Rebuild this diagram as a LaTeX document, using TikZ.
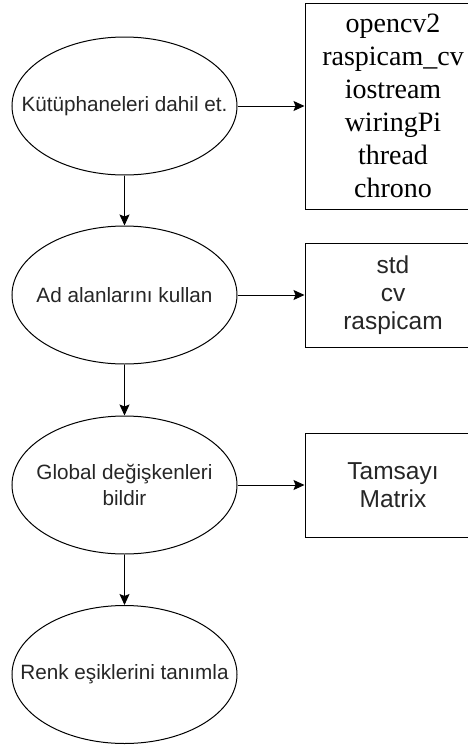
\documentclass[tikz,border=0pt]{standalone}
\usepackage{fontspec}
\setmainfont{Liberation Sans}
\newfontfamily\libserif{Liberation Serif}
\usepackage{tikz}
\usetikzlibrary{arrows.meta,shapes.geometric}

\begin{document}
\begin{tikzpicture}[
      x=1pt, y=-1pt,
      line width=1pt,
      stage/.style={ellipse, draw, minimum width=225pt, minimum height=138pt, inner sep=0pt,
        label={[align=center, text=black!85, font=\fontsize{20.7}{26}\selectfont]center:#1}},
      info/.style={rectangle, draw, minimum width=176pt, minimum height=#1, inner sep=0pt,
        align=center, text=black!85, font=\fontsize{24.5}{28}\selectfont},
      flow/.style={-{Stealth[length=11pt, width=10pt, inset=2pt]}}
    ]
      \useasboundingbox (0,0) rectangle (468,747);
      % Steps
      \node[stage={Kütüphaneleri dahil et.}] (libs) at (124.5,106) {};
      \node[stage={Ad alanlarını kullan}] (names) at (124.5,295) {};
      \node[stage={Global değişkenleri\\bildir}] (globals) at (124.5,485) {};
      \node[stage={Renk eşiklerini tanımla}] (colors) at (124.5,674.5) {};
      % Side notes
      \node[info=206pt, text=black, font=\libserif\fontsize{28}{33}\selectfont] (liblist) at (393,106)
        {opencv2\\raspicam\_cv\\iostream\\wiringPi\\thread\\chrono};
      \node[info=104pt] (namelist) at (393,295) {std\\cv\\raspicam};
      \node[info=104pt] (typelist) at (393,485) {Tamsayı\\Matrix};
      % Arrows
      \draw[flow] (libs) -- (names);
      \draw[flow] (names) -- (globals);
      \draw[flow] (globals) -- (colors);
      \draw[flow] (libs.east) -- (liblist.west);
      \draw[flow] (names.east) -- (namelist.west);
      \draw[flow] (globals.east) -- (typelist.west);
    \end{tikzpicture}
\end{document}
